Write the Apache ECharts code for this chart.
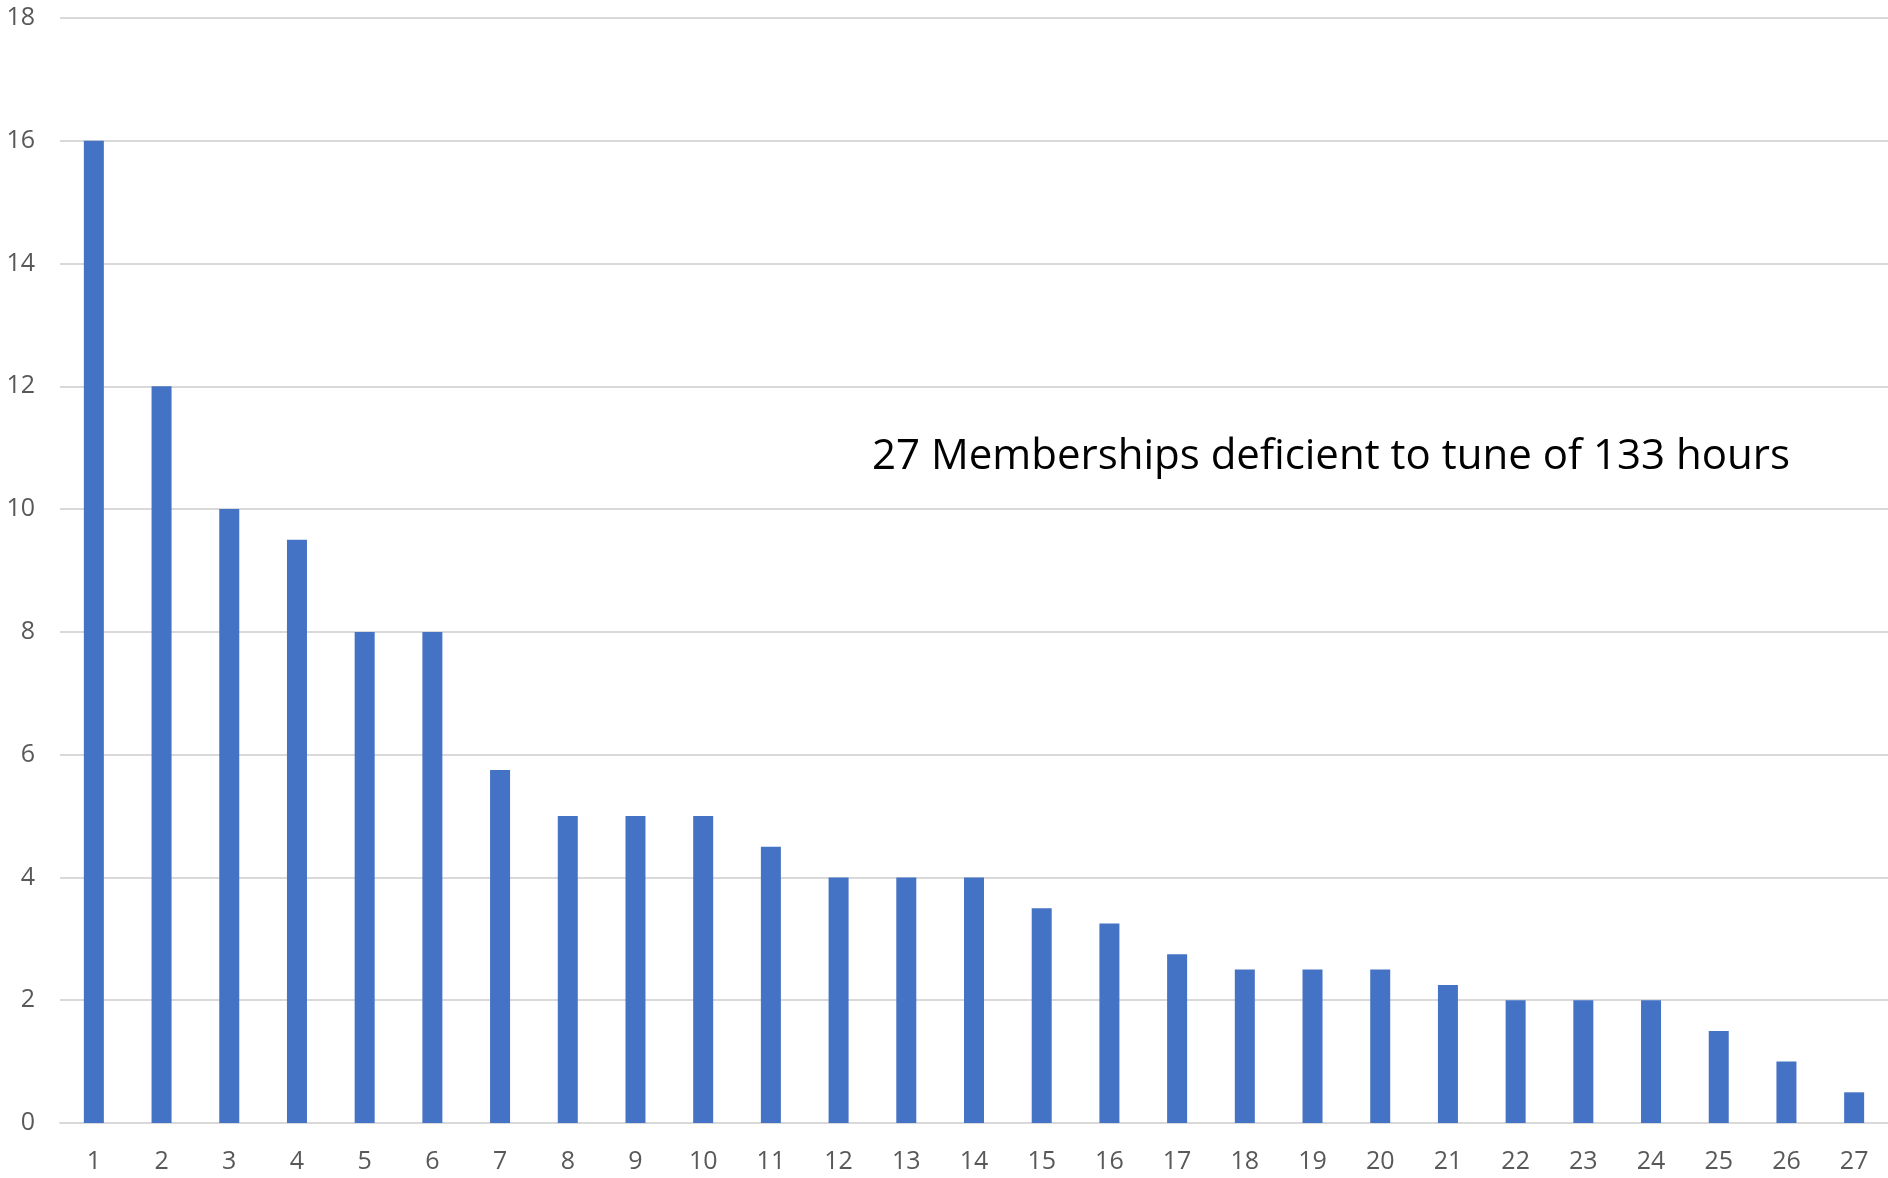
<!DOCTYPE html>
<html>
<head>
<meta charset="utf-8">
<script src="https://cdn.jsdelivr.net/npm/echarts@6/dist/echarts.min.js"></script>
<style>html,body{margin:0;padding:0;background:#fff;}#c{width:1888px;height:1178px;}</style>
</head>
<body>
<div id="c"></div>
<script>
var categories = ['1','2','3','4','5','6','7','8','9','10','11','12','13','14','15','16','17','18','19','20','21','22','23','24','25','26','27'];
var values = [16, 12, 10, 9.5, 8, 8, 5.75, 5, 5, 5, 4.5, 4, 4, 4, 3.5, 3.25, 2.75, 2.5, 2.5, 2.5, 2.25, 2, 2, 2, 1.5, 1, 0.5];
var annotation = '27 Memberships deficient to tune of 133 hours';

var chart = echarts.init(document.getElementById('c'));
chart.setOption({
  animation: false,
  backgroundColor: '#ffffff',
  grid: { left: 60, right: 0, top: 18, bottom: 55, containLabel: false },
  xAxis: {
    type: 'category',
    data: categories,
    axisTick: { show: false },
    axisLine: { show: true, lineStyle: { color: '#d9d9d9', width: 2 } },
    axisLabel: { color: '#595959', fontSize: 25, fontFamily: 'Open Sans', margin: 26 }
  },
  yAxis: {
    type: 'value',
    min: 0, max: 18, interval: 2,
    axisLine: { show: false },
    axisTick: { show: false },
    splitLine: { lineStyle: { color: '#d9d9d9', width: 2 } },
    axisLabel: { color: '#595959', fontSize: 25, fontFamily: 'Open Sans', margin: 25 }
  },
  series: [{
    type: 'bar',
    data: values,
    barWidth: 20,
    itemStyle: { color: '#4472c4' }
  }],
  graphic: [{
    type: 'text',
    left: 872,
    top: 436,
    style: { text: annotation, fontSize: 42, fontFamily: 'Open Sans', fill: '#000000' }
  }]
});
</script>
</body>
</html>
